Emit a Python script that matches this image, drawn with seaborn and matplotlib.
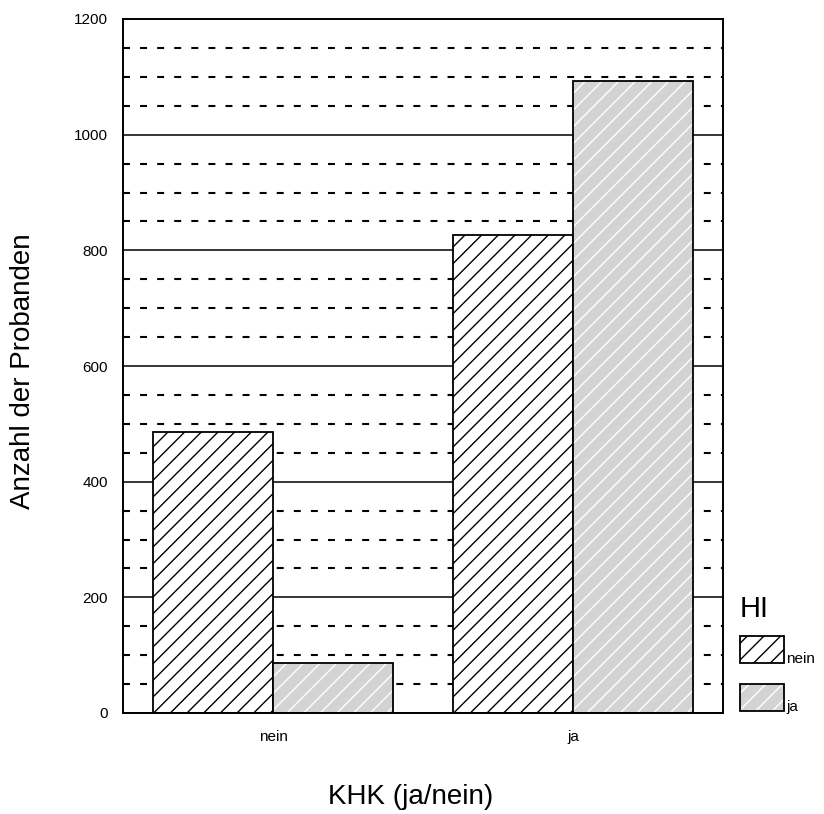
import matplotlib
matplotlib.use("Agg")
import matplotlib.pyplot as plt
import pandas as pd
import seaborn as sns
from matplotlib.ticker import MultipleLocator

# Counts of participants by KHK (coronary heart disease) and HI status
khk_levels = ["nein", "ja"]
hi_levels = ["nein", "ja"]
count_hi_nein = [486, 826]
count_hi_ja = [86, 1093]
y_ticks = [0, 200, 400, 600, 800, 1000, 1200]

df = pd.DataFrame({
    "KHK": khk_levels * 2,
    "HI": [hi_levels[0]] * 2 + [hi_levels[1]] * 2,
    "Anzahl": count_hi_nein + count_hi_ja,
})

sns.set_theme(style="white")
plt.rcParams["font.family"] = ["Liberation Sans", "DejaVu Sans"]
plt.rcParams["lines.scale_dashes"] = False
plt.rcParams["hatch.linewidth"] = 1.0
plt.rcParams["text.color"] = "black"
plt.rcParams["axes.labelcolor"] = "black"
plt.rcParams["xtick.color"] = "black"
plt.rcParams["ytick.color"] = "black"

fig = plt.figure(figsize=(8.24, 8.14), dpi=100)
ax = fig.add_axes([123 / 824, 101 / 814, 600 / 824, 694 / 814])

sns.barplot(
    data=df, x="KHK", y="Anzahl", hue="HI",
    order=khk_levels, hue_order=hi_levels,
    palette={"nein": "white", "ja": "#d3d3d3"}, saturation=1,
    edgecolor="black", linewidth=1.3, width=0.8,
    errorbar=None, legend=False, ax=ax,
)

# Hatching: black stripes on white, white stripes on grey
hatch_colors = ["black", "white"]
for container, hc in zip(ax.containers, hatch_colors):
    for patch in container:
        patch.set_hatch("//")
        patch.set_edgecolor("black")
        if hasattr(patch, "set_hatchcolor"):
            patch.set_hatchcolor(hc)
        else:
            patch._hatch_color = matplotlib.colors.to_rgba(hc)
        patch.set_zorder(3)

ax.set_ylim(y_ticks[0], y_ticks[-1])
ax.set_xlim(-0.5, 1.5)
ax.yaxis.set_major_locator(MultipleLocator(200))
ax.yaxis.set_minor_locator(MultipleLocator(50))
ax.set_yticks(y_ticks)
ax.set_axisbelow(True)
ax.grid(which="major", axis="y", color="black", lw=1.1, ls="-")
ax.grid(which="minor", axis="y", color="black", lw=1.5, ls=(0, (5, 7.3)))

for sp in ax.spines.values():
    sp.set_visible(True)
    sp.set_color("black")
    sp.set_linewidth(1.4)
    sp.set_zorder(4)

ax.tick_params(axis="y", which="both", length=0, pad=11, labelsize=11)
ax.tick_params(axis="x", which="both", length=0, pad=12.5, labelsize=11)

ax.set_xlabel("KHK (ja/nein)", fontsize=20, va="center")
ax.set_ylabel("Anzahl der Probanden", fontsize=20, va="center")
ax.xaxis.set_label_coords(0.48, -0.121)
ax.yaxis.set_label_coords(-0.166, 0.493)

handles = [ax.containers[0][0], ax.containers[1][0]]
leg_fs = 11
fs_px = leg_fs * 100 / 72
hh = (27 / fs_px - 0.245) / 0.65
leg = ax.legend(
    handles, hi_levels, title="HI",
    loc="upper left", bbox_to_anchor=(740 / 824, (814 - 587) / 814),
    bbox_transform=fig.transFigure, frameon=False,
    fontsize=leg_fs, title_fontsize=21,
    handlelength=44 / fs_px, handleheight=hh,
    handletextpad=0.15, labelspacing=21 / fs_px,
    borderpad=0, borderaxespad=0, alignment="left",
)
descent_px = 0.35 * fs_px * (hh - 0.7)
for t in leg.get_texts():
    t.set_y(-descent_px)
leg.get_title().set_y(-8)

fig.savefig("out.png", dpi=100)
